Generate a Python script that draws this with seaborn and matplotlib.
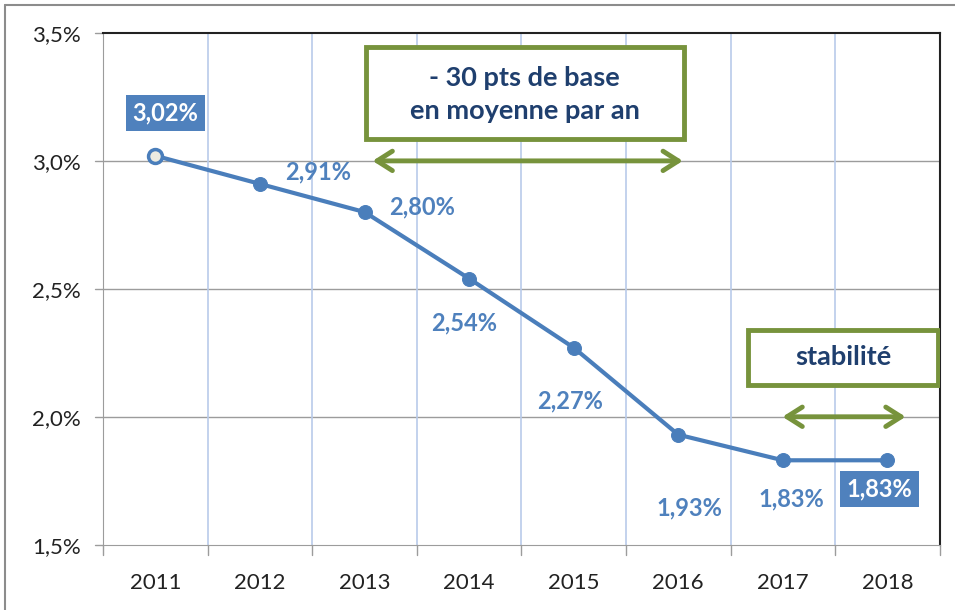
import numpy as np
import pandas as pd
import seaborn as sns
import matplotlib.pyplot as plt
from matplotlib.lines import Line2D
from matplotlib.patches import FancyArrowPatch, Rectangle

years = ["2011", "2012", "2013", "2014", "2015", "2016", "2017", "2018"]
rates = [3.02, 2.91, 2.80, 2.54, 2.27, 1.93, 1.83, 1.83]
labels = ["3,02%", "2,91%", "2,80%", "2,54%", "2,27%", "1,93%", "1,83%", "1,83%"]
yticks = [1.5, 2.0, 2.5, 3.0, 3.5]
ytick_labels = ["1,5%", "2,0%", "2,5%", "3,0%", "3,5%"]

blue = "#4a7ebb"
green = "#77933c"
navy = "#1f3f6e"

sns.set_style("white")
plt.rcParams["font.family"] = ["Lato", "DejaVu Sans"]

df = pd.DataFrame({"pos": np.arange(len(years)), "rate": rates})

fig = plt.figure(figsize=(9.55, 6.1), dpi=100)
ax = fig.add_axes([0.108, 0.107, 0.876, 0.839])

sns.lineplot(data=df, x="pos", y="rate", ax=ax, color=blue, linewidth=3,
             marker="o", markersize=10, markeredgecolor=blue, zorder=4)
# first point is hollow
ax.plot(df["pos"].iloc[:1], df["rate"].iloc[:1], "o", ms=10, mfc="#eeece1",
        mec=blue, mew=2.5, zorder=5)

ax.set_xlim(-0.5, len(years) - 0.5)
ax.set_ylim(1.5, 3.5)
ax.set_yticks(yticks)
ax.set_yticklabels(ytick_labels)
ax.set_xticks(df["pos"])
ax.set_xticklabels(years)
ax.set_xlabel("")
ax.set_ylabel("")
ax.tick_params(axis="both", labelsize=16, length=0, colors="#222222")
ax.tick_params(axis="y", pad=16)
ax.tick_params(axis="x", pad=20)

# gridlines
for y in yticks[1:-1]:
    ax.axhline(y, color="#9c9c9c", lw=1, zorder=1)
for b in np.arange(0.5, len(years) - 1, 1):
    ax.axvline(b, color="#b9cbea", lw=1.2, zorder=1)
# category tick marks under axis
for b in np.arange(-0.5, len(years), 1):
    ax.plot([b, b], [-0.02, 0], transform=ax.get_xaxis_transform(),
            color="#9c9c9c", lw=1, clip_on=False)
for y in yticks:
    ax.plot([-0.01, 0], [y, y], transform=ax.get_yaxis_transform(),
            color="#9c9c9c", lw=1, clip_on=False)

for side in ["left", "bottom"]:
    ax.spines[side].set_color("#9c9c9c")
for side in ["top", "right"]:
    ax.spines[side].set_color("#222222")
    ax.spines[side].set_linewidth(1.5)

# data labels (offsets in pixels)
offsets = [(10, 43), (58, 12), (57, 5), (-5, -44), (-4, -53), (11, -73), (8, -39), (-8, -29)]
boxed = {0, 7}
for i, (lab, off) in enumerate(zip(labels, offsets)):
    if i in boxed:
        ax.annotate(lab, (i, rates[i]), xytext=off, textcoords="offset pixels",
                    ha="center", va="center", fontsize=17, fontweight="bold",
                    color="white", zorder=6,
                    bbox=dict(boxstyle="square,pad=0.28", fc="#4f81bd", ec="none"))
    else:
        ax.annotate(lab, (i, rates[i]), xytext=off, textcoords="offset pixels",
                    ha="center", va="center", fontsize=17, fontweight="bold",
                    color="#4f81bd", zorder=6)

# annotation boxes
ax.add_patch(Rectangle((2.01, 3.085), 3.04, 0.36, fc="white", ec=green, lw=3.5, zorder=5))
ax.text(3.53, 3.26, "- 30 pts de base\nen moyenne par an", ha="center", va="center",
        fontsize=19.5, fontweight="bold", color=navy, linespacing=1.45, zorder=6)
ax.add_patch(Rectangle((5.67, 2.125), 1.81, 0.215, fc="white", ec=green, lw=3.5, zorder=5))
ax.text(6.575, 2.232, "stabilité", ha="center", va="center",
        fontsize=19.5, fontweight="bold", color=navy, zorder=6)

ax.add_patch(FancyArrowPatch((2.05, 3.0), (5.07, 3.0), arrowstyle="<->,head_length=11,head_width=7",
                             color=green, lw=3.5, mutation_scale=1, zorder=6))
ax.add_patch(FancyArrowPatch((5.97, 2.0), (7.2, 2.0), arrowstyle="<->,head_length=11,head_width=7",
                             color=green, lw=3.5, mutation_scale=1, zorder=6))

# outer chart frame (partially cropped)
fig.add_artist(Line2D([0.005, 0.005], [0, 0.992], color="#8c8c8c", lw=1.5))
fig.add_artist(Line2D([0.005, 1], [0.992, 0.992], color="#8c8c8c", lw=1.5))

fig.savefig("out.png", dpi=100)
